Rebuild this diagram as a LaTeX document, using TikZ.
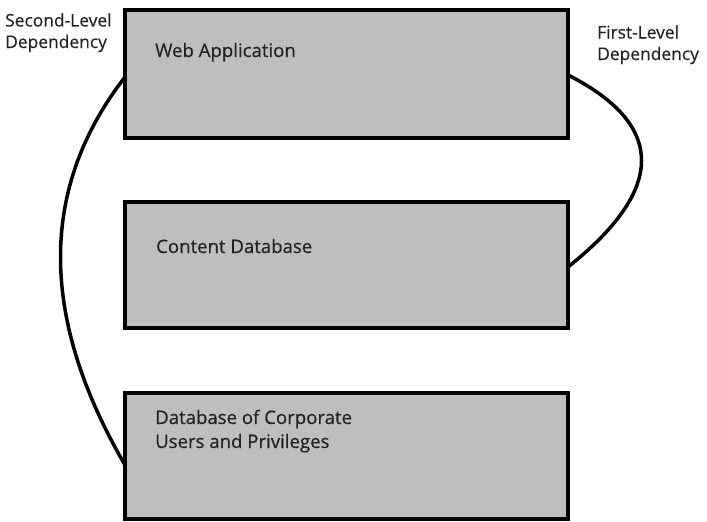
\documentclass[tikz,border=0pt]{standalone}
\usepackage{fontspec}
\setmainfont{Open Sans}
\newfontfamily\lblfont[FakeBold=0.4]{Open Sans}
\definecolor{boxgray}{HTML}{BEBEBE}
\definecolor{inkgray}{HTML}{222222}
\tikzset{
    box/.style={draw=black, fill=boxgray, line width=4.5pt, outer sep=0pt,
        inner sep=0pt, anchor=north west},
    lbl/.style={text=inkgray, font=\lblfont\fontsize{18.6}{24}\selectfont,
        inner sep=0pt, anchor=base west},
    deplbl/.style={lbl, font=\lblfont\fontsize{17.4}{21.5}\selectfont},
    dep/.style={line width=3.5pt, black}
}
\begin{document}
\begin{tikzpicture}[x=1pt,y=-1pt]
    \useasboundingbox (0,0) rectangle (707,522);

    \node[box, minimum width=443pt, minimum height=128pt] (web) at (125,10) {};
    \node[box, minimum width=443pt, minimum height=126pt] (content) at (125,202) {};
    \node[box, minimum width=443pt, minimum height=126pt] (users) at (125,393) {};

    \node[lbl] (webtxt) at (155,57) {Web Application};
    \node[lbl] (contenttxt) at (156,253) {Content Database};
    \node[lbl, align=left] (userstxt) at (155,448) {Database of Corporate\\Users and Privileges};

    \node[deplbl, align=left] (second) at (5,48) {Second-Level\\Dependency};
    \node[deplbl, align=left] (first) at (597,60) {First-Level\\Dependency};

    \draw[dep] ([yshift=-3pt]web.west) .. controls (39,188) and (39,317) .. ([yshift=-9pt]users.west);
    \draw[dep] ([yshift=-1pt]web.east) .. controls (666,125) and (666,189) .. ([yshift=-2pt]content.east);

\end{tikzpicture}
\end{document}
